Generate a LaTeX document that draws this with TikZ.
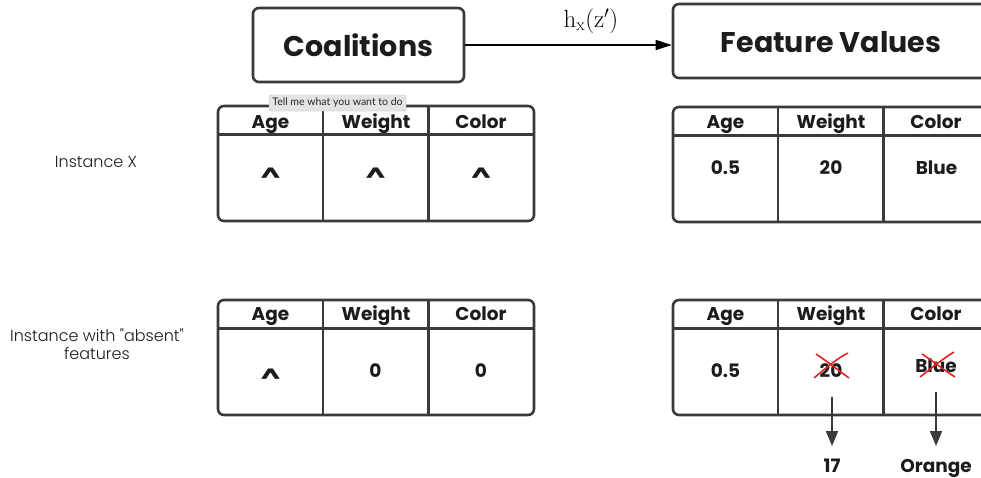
\documentclass[tikz,border=0pt]{standalone}
\usepackage[no-math]{fontspec}
\setmainfont{Poppins}
\newfontfamily\lightfont{Poppins Light}
\newfontfamily\tipfont{Lato}
\usetikzlibrary{arrows.meta}
\definecolor{ln}{HTML}{3A3A3A}
\definecolor{tx}{HTML}{1C1C1C}
\definecolor{xr}{HTML}{E02424}
\definecolor{tipbg}{HTML}{E4E4E4}
\begin{document}
\begin{tikzpicture}[x=1pt,y=-1pt,
  box/.style={draw=ln, line width=2.6pt, rounded corners=6pt},
  grid/.style={draw=ln, line width=2.6pt},
  title/.style={font=\fontsize{28.5}{31}\selectfont\bfseries, text=tx, inner sep=0pt},
  hd/.style={font=\fontsize{18.5}{22}\selectfont\bfseries, text=tx, inner sep=0pt, text height=14pt, text depth=4pt},
  caret/.style={font=\fontsize{24}{26}\selectfont\bfseries, text=tx, inner sep=0pt, anchor=base},
  lbl/.style={font=\lightfont\fontsize{16}{18.5}\selectfont, text=tx, align=center, inner sep=0pt},
  cross/.style={draw=xr, line width=1.6pt},
  darr/.style={draw=ln, line width=1.8pt, -{Triangle[width=12pt,length=15pt]}},
  harr/.style={draw=black, line width=1.6pt, -{Triangle[width=10pt,length=16pt]}}
]
\useasboundingbox (0,0) rectangle (981,477);
\clip (0,0) rectangle (981,477);
\fill[white] (0,0) rectangle (981,477);

% top boxes
\node[box, minimum width=211pt, minimum height=74pt] (coal) at (358.5,45) {};
\node[title] at (358.5,45) (coalt) {Coalitions};
\node[box, minimum width=316pt, minimum height=74pt] (feat) at (831,41) {};
\node[title] at (831,42) (featt) {Feature Values};
\draw[harr] (coal.east |- 0,45) coordinate (ca) -- (feat.west |- 0,45) coordinate (fa);
\node[font=\fontsize{25}{28}\selectfont, inner sep=0pt] (hx) at (591,21) {$\mathrm{h}_{\mathrm{x}}(\mathrm{z}')$};

% left labels
\node[lbl] (ix) at (96,162) {Instance X};
\node[lbl] (iab) at (97,344) {Instance with "absent"\\features};

% tables
\foreach \nm/\x/\y in {tl/218/106, tr/673/107, bl/218/300, br/673/300}{
  \draw[box] (\x,\y) rectangle ++(316,115);
  \draw[grid] (\x,\y+28.5) -- ++(316,0);
  \draw[grid] (\x+105,\y) -- ++(0,115);
  \draw[grid] (\x+210.5,\y) -- ++(0,115);
}

% headers
\foreach \nm/\x/\y in {tl/218/123, tr/673/123, bl/218/315, br/673/315}{
  \node[hd] (\nm a) at (\x+52.5,\y) {Age};
  \node[hd] (\nm w) at (\x+158,\y) {Weight};
  \node[hd] (\nm c) at (\x+263,\y) {Color};
}

% top-left carets
\node[caret] (c1) at (270.5,181) {\scalebox{1.2}[0.8]{\textasciicircum}};
\node[caret] (c2) at (375.5,181) {\scalebox{1.2}[0.8]{\textasciicircum}};
\node[caret] (c3) at (481,181) {\scalebox{1.2}[0.8]{\textasciicircum}};

% top-right values
\node[hd] (v1) at (725.5,169) {0.5};
\node[hd] (v2) at (831,169) {20};
\node[hd] (v3) at (936.5,169) {Blue};

% bottom-left values
\node[caret] (c4) at (270.5,382) {\scalebox{1.2}[0.8]{\textasciicircum}};
\node[hd] (z1) at (375.5,372) {0};
\node[hd] (z2) at (481,372) {0};

% bottom-right values
\node[hd] (w1) at (725.5,372) {0.5};
\node[hd] (w2) at (831,372) {20};
\node[hd] (w3) at (936,367) {Blue};

% red crosses
\draw[cross] (814,378) .. controls (828,366) and (838,358) .. (848,353);
\draw[cross] (816,354) .. controls (828,362) and (838,370) .. (849,378);
\draw[cross] (920,377) .. controls (934,366) and (944,358) .. (954,352);
\draw[cross] (922,354) .. controls (934,362) and (944,370) .. (955,377);

% new values
\node[hd] (n17) at (832,467) {17};
\node[hd] (nor) at (936,467) {Orange};
\coordinate (s1) at (832,397);
\coordinate (s2) at (936,392);
\draw[darr] (s1) -- (s1 |- 0,446);
\draw[darr] (s2) -- (s2 |- 0,446);

% tooltip
\node[fill=tipbg, draw=tipbg!80!black, line width=0.3pt, rounded corners=2pt, minimum width=137pt, minimum height=16pt, inner sep=0pt,
  font=\tipfont\fontsize{10.5}{12}\selectfont, text=black!85] (tip) at (337.5,103) {Tell me what you want to do};
\end{tikzpicture}
\end{document}
